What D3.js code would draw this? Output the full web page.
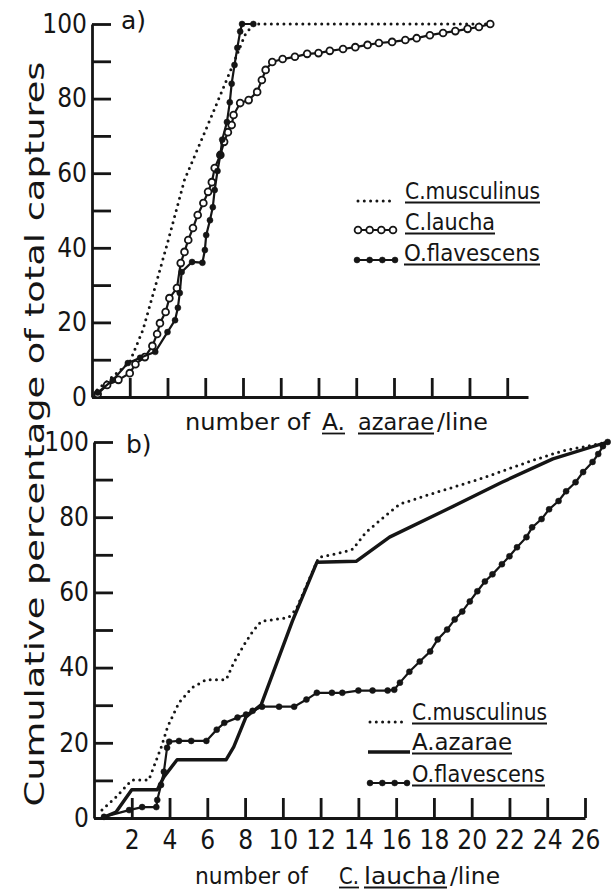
<!DOCTYPE html>
<html>
<head>
<meta charset="utf-8">
<script src="https://cdn.jsdelivr.net/npm/d3@7"></script>
<style>
  body { margin: 0; background: #fff; }
  svg text { font-family: "DejaVu Sans Condensed", "DejaVu Sans", sans-serif; font-stretch: condensed; fill: #151515; }
  svg text.wide { font-family: "DejaVu Sans", sans-serif; font-stretch: normal; }
</style>
</head>
<body>
<svg id="chart" width="611" height="894"></svg>
<script>
// panel a) : number of A. azarae / line  ->  cumulative % of captures
const aMusculinus = [[0.27,1.9],[2.0,9.4],[2.7,18],[3.45,31.4],[4.0,41.3],[4.9,58.2],[6.4,76.1],[7.5,89.5],[8.1,97],[8.55,100],[21.1,100]];
const aLaucha = [[0.3,0.8],[0.8,3.2],[1.4,4.6],[2.0,6.4],[2.3,8.8],[2.8,10.7],[3.2,13.7],[3.45,16.9],[3.6,19.8],[3.9,22.8],[4.1,26.5],
  [4.5,29.2],[4.7,35.9],[4.9,38.9],[5.1,42.1],[5.35,45.3],[5.6,48.8],[5.9,52.0],[6.15,55.0],[6.35,57.6],[6.5,61.4],[6.8,64.9],
  [7.0,68.4],[7.2,71.0],[7.4,72.9],[7.5,75.6],[7.85,78.8],[8.3,79.6],[8.75,81.8],[9.0,85.0],[9.2,87.7],[9.55,89.8],[10.1,90.6],
  [10.75,91.2],[11.4,92.0],[12.0,92.2],[12.6,92.8],[13.3,93.3],[13.95,93.8],[14.6,94.4],[15.2,94.9],[15.9,95.2],[16.6,95.7],
  [17.2,96.2],[17.9,97.0],[18.6,97.6],[19.25,98.1],[19.9,98.7],[20.5,99.2],[21.1,100]];
const aFlavescens = [[0.3,1.2],[1.1,4.5],[1.9,9.1],[2.55,10.5],[3.35,12.1],[4.0,17.4],[4.4,20.6],[4.55,23.9],[4.65,27.9],[4.75,33.5],
  [5.3,36.2],[5.85,36.0],[5.98,39.4],[6.05,43.4],[6.25,47.4],[6.4,50.9],[6.5,55.5],[6.65,60.6],[6.8,64.9],[6.9,69],[7.15,73.7],
  [7.3,79],[7.4,84],[7.55,89],[7.7,93.6],[7.85,98],[7.95,100],[8.55,100]];

// panel b) : number of C. laucha / line
const bMusculinus = [[0.42,2.1],[1.17,5.6],[2.0,10.1],[2.9,10.1],[3.55,18.7],[3.9,24.3],[4.5,30.7],[5.2,34.7],[5.95,36.8],[7.0,36.8],
  [7.4,41.3],[7.95,46.1],[8.4,49.6],[8.85,52.3],[10.3,53.3],[10.7,55.5],[11.9,69.3],[13.2,70.7],[13.7,71.5],[14.4,76],[15.65,81.3],
  [16.2,83.5],[17.8,86.1],[20.4,90.1],[23.1,94.9],[24.8,97.6],[27.2,100]];
const bAzarae = [[0.42,0],[1.17,1.6],[2.0,7.5],[3.35,7.5],[3.7,10.9],[4.4,15.5],[7.0,15.5],[7.4,18.9],[8.05,26.9],[8.85,30.1],
  [10.5,52.3],[11.8,68],[13.9,68.3],[15.65,74.7],[18.7,82.1],[21.6,89.3],[24.3,95.5],[27.2,100]];
const bFlavescens = [[0.53,0.3],[1.86,2.1],[2.55,2.9],[3.3,2.9],[3.35,4.8],[3.55,8.8],[3.7,12.3],[3.87,18.7],[3.98,20.3],[4.5,20.5],
  [5.15,20.5],[5.95,20.5],[6.5,23.5],[6.9,25.3],[7.6,26.7],[8.05,27.5],[8.4,28.5],[8.9,29.6],[9.8,29.6],[10.6,29.6],[11.25,31.5],
  [11.8,33.3],[12.6,33.3],[13.15,33.3],[14.0,33.9],[14.75,33.9],[15.55,33.9],[15.9,34.1],[16.2,36],[16.7,38.9],[17.25,41.6],
  [17.8,44.3],[18.2,47.5],[18.7,50.1],[19.1,52.8],[19.5,54.9],[19.9,57.6],[20.3,60.3],[20.7,62.9],[21.1,64.8],[21.6,67.5],
  [22.0,69.6],[22.4,72],[22.9,74.7],[23.2,77.3],[23.7,79.5],[24.1,82.1],[24.6,84.3],[25.0,86.9],[25.5,89.3],[25.9,92],
  [26.4,94.7],[26.7,96.8],[26.95,98.9],[27.2,100]];

const yTicks = d3.range(0, 101, 10);
const aXTicks = d3.range(2, 23, 2);
const bXTicks = d3.range(2, 27, 2);
const yTitle = "Cumulative percentage of total captures";
const aTitle = ["number of", "A.", "azarae", "/line"];
const bTitle = ["number of", "C.", "laucha", "/line"];
const aLegend = ["C.musculinus", "C.laucha", "O.flavescens"];
const bLegend = ["C.musculinus", "A.azarae", "O.flavescens"];

const ink = "#151515";
const svg = d3.select("#chart");

// fixed-width text with optional underline
function word(g, t, x, base, w, size, under) {
  g.append("text").attr("class", "wide").attr("x", x).attr("y", base).attr("font-size", size)
    .attr("textLength", w).attr("lengthAdjust", "spacingAndGlyphs").text(t);
  if (under) {
    g.append("line").attr("x1", x).attr("x2", x + w).attr("y1", base + 3.5).attr("y2", base + 3.5)
      .attr("stroke", ink).attr("stroke-width", 1.8);
  }
}

function drawSeries(g, data, x, y, kind) {
  const line = d3.line().x(d => x(d[0])).y(d => y(d[1]));
  const p = g.append("path").datum(data).attr("d", line).attr("fill", "none").attr("stroke", ink);
  if (kind === "dot") {
    p.attr("stroke-width", 3).attr("stroke-dasharray", "0 6.3").attr("stroke-linecap", "round");
  } else if (kind === "solid") {
    p.attr("stroke-width", 3.4).attr("stroke-linejoin", "round");
  } else {
    p.attr("stroke-width", 2.2);
    g.selectAll(null).data(data).enter().append("circle")
      .attr("cx", d => x(d[0])).attr("cy", d => y(d[1]))
      .attr("r", kind === "open" ? 3.4 : 3)
      .attr("fill", kind === "open" ? "#fff" : ink)
      .attr("stroke", ink).attr("stroke-width", kind === "open" ? 1.8 : 0.5);
  }
}

function legendRow(g, kind, x0, x1, yy, label, tx, base, w) {
  const lx = d3.scaleLinear().domain([0, 3]).range([x0, x1]);
  const pts = [0, 1, 2, 3].map(i => [i, 0]);
  drawSeries(g, pts, lx, () => yy, kind);
  word(g, label, tx, base, w, 23, true);
}

function styleAxis(sel) {
  sel.attr("font-family", null).attr("font-size", 26);
  sel.selectAll("path, line").attr("stroke", ink).attr("stroke-width", 2.8);
  sel.selectAll("text").attr("fill", ink);
}

// ---- panel a ----
(function () {
  const x = d3.scaleLinear().domain([0, 23.1]).range([92, 528]);
  const y = d3.scaleLinear().domain([0, 100]).range([397, 24]);
  const g = svg.append("g");

  g.append("g").attr("transform", `translate(${x(0)},0)`)
    .call(d3.axisLeft(y).tickValues(yTicks).tickSize(-19).tickSizeOuter(0).tickPadding(5)
      .tickFormat(d => d % 20 === 0 ? d : ""))
    .call(styleAxis);
  g.append("g").attr("transform", `translate(0,${y(0)})`)
    .call(d3.axisBottom(x).tickValues(aXTicks).tickSize(-19).tickSizeOuter(0).tickFormat(""))
    .call(styleAxis);

  drawSeries(g, aMusculinus, x, y, "dot");
  drawSeries(g, aLaucha, x, y, "open");
  drawSeries(g, aFlavescens, x, y, "filled");

  g.append("text").attr("class", "wide").attr("x", 121).attr("y", 29).attr("font-size", 25).text("a)");

  // axis title
  word(g, aTitle[0], 185, 430, 125, 23, false);
  word(g, aTitle[1], 322, 430, 23, 23, true);
  word(g, aTitle[2], 358, 430, 76, 23, true);
  word(g, aTitle[3], 437, 430, 51, 23, false);

  legendRow(g, "dot", 358, 394, 201, aLegend[0], 405, 199, 135);
  legendRow(g, "open", 358, 393, 230, aLegend[1], 405, 230, 90);
  legendRow(g, "filled", 357, 395, 260, aLegend[2], 404, 261, 136);
})();

// ---- panel b ----
(function () {
  const x = d3.scaleLinear().domain([0, 26]).range([94, 585]);
  const y = d3.scaleLinear().domain([0, 100]).range([818, 442]);
  const g = svg.append("g");

  g.append("g").attr("transform", `translate(${x(0)},0)`)
    .call(d3.axisLeft(y).tickValues(yTicks).tickSize(-19).tickSizeOuter(0).tickPadding(5)
      .tickFormat(d => d % 20 === 0 ? d : ""))
    .call(styleAxis);
  g.append("g").attr("transform", `translate(0,${y(0)})`)
    .call(d3.axisBottom(x).tickValues(bXTicks).tickSize(-20).tickSizeOuter(0).tickPadding(13))
    .call(styleAxis);

  drawSeries(g, bMusculinus, x, y, "dot");
  drawSeries(g, bAzarae, x, y, "solid");
  drawSeries(g, bFlavescens, x, y, "filled");

  g.append("text").attr("class", "wide").attr("x", 126).attr("y", 453).attr("font-size", 25).text("b)");

  word(g, bTitle[0], 195, 884, 113, 23, false);
  word(g, bTitle[1], 339, 884, 20, 23, true);
  word(g, bTitle[2], 364, 884, 83, 23, true);
  word(g, bTitle[3], 450, 884, 50, 23, false);

  legendRow(g, "dot", 370, 406, 722, bLegend[0], 412, 720, 135);
  legendRow(g, "solid", 368, 410, 752, bLegend[1], 412, 750, 100);
  legendRow(g, "filled", 370, 407, 783, bLegend[2], 412, 782, 133);
})();

// shared y title
svg.append("text").attr("class", "wide")
  .attr("transform", "translate(44,434) rotate(-90)")
  .attr("text-anchor", "middle").attr("font-size", 27)
  .attr("textLength", 745).attr("lengthAdjust", "spacingAndGlyphs")
  .text(yTitle);
</script>
</body>
</html>
